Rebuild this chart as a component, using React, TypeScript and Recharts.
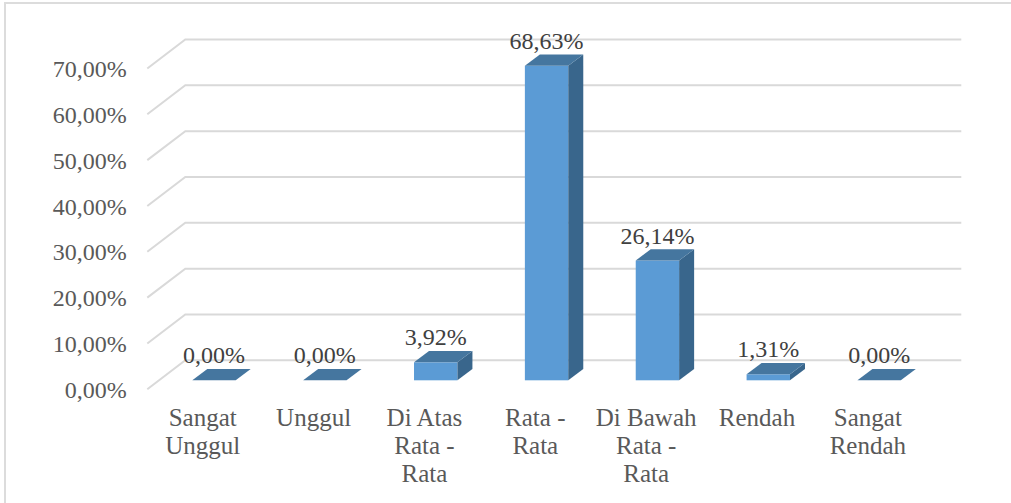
import { Bar, BarChart, CartesianGrid, LabelList, XAxis, YAxis } from "recharts";

const categories = ["Sangat\nUnggul", "Unggul", "Di Atas\nRata -\nRata", "Rata -\nRata", "Di Bawah\nRata -\nRata", "Rendah", "Sangat\nRendah"];
const values = [0, 0, 3.92, 68.63, 26.14, 1.31, 0];
const yTicks = [0, 10, 20, 30, 40, 50, 60, 70];

const data = categories.map((name, i) => ({ name, value: values[i] }));

const FONT = '"Liberation Serif", serif';
const percent = (v: number) => v.toFixed(2).replace(".", ",") + "%";

// 3D look: wall depth of the grid and depth of the bars
const WALL_X = 38;
const WALL_Y = 29;
const BAR_X = 15;
const BAR_Y = 11.3;
const BAR_SHIFT_X = 11;
const BAR_SHIFT_Y = 9;

function GridLine({ x1, x2, y1 }: any) {
  return (
    <path
      d={`M${x1},${y1} L${x1 + WALL_X},${y1 - WALL_Y} L${x2 + WALL_X},${y1 - WALL_Y}`}
      fill="none"
      stroke="#d9d9d9"
      strokeWidth={2}
    />
  );
}

function Bar3D({ x, y, width, height }: any) {
  const left = x + BAR_SHIFT_X;
  const right = left + width;
  const top = y - BAR_SHIFT_Y;
  const bottom = top + height;
  return (
    <g>
      <rect x={left} y={top} width={width} height={height} fill="#5b9bd5" />
      <polygon
        points={`${right},${top} ${right + BAR_X},${top - BAR_Y} ${right + BAR_X},${bottom - BAR_Y} ${right},${bottom}`}
        fill="#39668c"
      />
      <polygon
        points={`${left},${top} ${left + BAR_X},${top - BAR_Y} ${right + BAR_X},${top - BAR_Y} ${right},${top}`}
        fill="#45769f"
      />
    </g>
  );
}

function ValueLabel({ x, y, width, value }: any) {
  return (
    <text x={x + BAR_SHIFT_X + width / 2} y={y - 26} textAnchor="middle" fontFamily={FONT} fontSize={24} fill="#404040">
      {percent(value)}
    </text>
  );
}

function CategoryTick({ x, y, payload }: any) {
  return (
    <text x={x} y={y} textAnchor="middle" fontFamily={FONT} fontSize={25} fill="#595959">
      {payload.value.split("\n").map((line: string, i: number) => (
        <tspan key={i} x={x} dy={i === 0 ? 29 : 28}>
          {line}
        </tspan>
      ))}
    </text>
  );
}

export default function App() {
  return (
    <div style={{ position: "absolute", left: 0, top: 0, width: 1011, height: 503, overflow: "hidden", background: "#fff" }}>
      <div style={{ position: "absolute", left: 4, top: 2, width: 1007, height: 2, background: "#dcdcdc" }} />
      <div style={{ position: "absolute", left: 4, top: 2, width: 2, height: 501, background: "#dcdcdc" }} />
      <BarChart
        width={1011}
        height={503}
        data={data}
        margin={{ top: 68.5, right: 87.7, bottom: 0, left: 0 }}
        style={{ position: "absolute", left: 0, top: 0 }}
      >
        <CartesianGrid vertical={false} horizontal={(props: any) => <GridLine key={props.y1} {...props} />} />
        <XAxis dataKey="name" axisLine={false} tickLine={false} height={113.7} interval={0} tick={<CategoryTick />} />
        <YAxis
          width={147.3}
          domain={[0, 70]}
          ticks={yTicks}
          axisLine={false}
          tickLine={false}
          tickSize={0}
          tickMargin={20.6}
          tickFormatter={percent}
          tick={{ fontFamily: FONT, fontSize: 24, fill: "#595959" }}
        />
        <Bar dataKey="value" barSize={43.4} shape={<Bar3D />} isAnimationActive={false}>
          <LabelList dataKey="value" content={<ValueLabel />} />
        </Bar>
      </BarChart>
    </div>
  );
}
